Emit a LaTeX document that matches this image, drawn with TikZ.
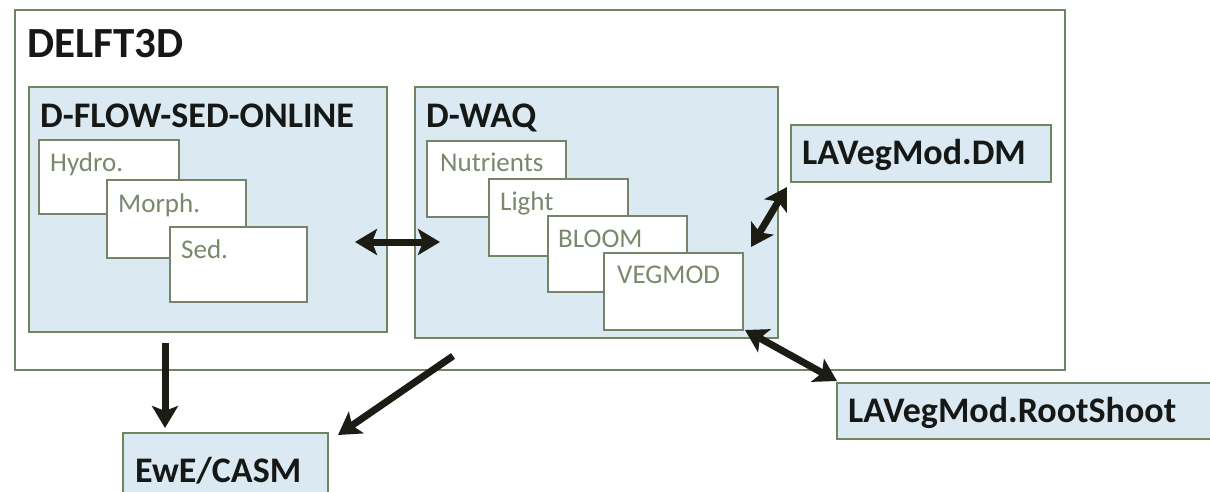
\documentclass[tikz,border=0pt]{standalone}
\usepackage{fontspec}
\setmainfont{Carlito}
\usetikzlibrary{arrows.meta}
\definecolor{boxgreen}{RGB}{112,134,96}
\definecolor{boxblue}{RGB}{219,234,242}
\definecolor{sublabel}{RGB}{122,136,108}
\definecolor{arrowdark}{RGB}{28,28,20}
\definecolor{titleblack}{RGB}{22,24,22}
\begin{document}
\begin{tikzpicture}[x=1pt,y=-1pt,
  >={Stealth[length=22pt,width=26pt,inset=5pt]},
  frame/.style={draw=boxgreen, line width=2.5pt, inner sep=0pt, outer sep=0pt, anchor=north west},
  bluebox/.style={frame, fill=boxblue},
  whitebox/.style={draw=boxgreen!70!gray, line width=1.3pt, fill=white, inner sep=0pt, outer sep=0pt, anchor=north west, minimum width=139pt, minimum height=76pt},
  title/.style={anchor=base west, font=\bfseries\fontsize{36}{40}\selectfont, text=titleblack, inner sep=0pt},
  bigtitle/.style={title, font=\bfseries\fontsize{43}{46}\selectfont},
  subtext/.style={anchor=base west, font=\fontsize{27}{30}\selectfont, text=sublabel, inner sep=0pt},
  link/.style={draw=arrowdark, line width=7pt, ->},
  duallink/.style={draw=arrowdark, line width=7pt, <->},
]
\useasboundingbox (0,0) rectangle (1210,491);
\fill[white] (0,0) rectangle (1210,491);

% outer frame
\node[frame, fill=white, minimum width=1050pt, minimum height=360pt] (delft) at (15,10) {};
\node[bigtitle] (delftlbl) at (27,57) {DELFT3D};

% D-FLOW-SED-ONLINE
\node[bluebox, minimum width=358pt, minimum height=245pt] (flow) at (29,87) {};
\node[title] (flowlbl) at (40,127) {D-FLOW-SED-ONLINE};
\node[whitebox, minimum width=140pt, minimum height=74pt] (hydro) at (39,140) {};
\node[subtext] at (50,171) {Hydro.};
\node[whitebox, minimum height=78pt] (morph) at (107,180) {};
\node[subtext] at (118,212) {Morph.};
\node[whitebox, minimum width=137pt, minimum height=75pt] (sed) at (170,227) {};
\node[subtext] at (181,258) {Sed.};

% D-WAQ
\node[bluebox, minimum width=363pt, minimum height=251pt] (waq) at (415,87) {};
\node[title] (waqlbl) at (426,127) {D-WAQ};
\node[whitebox] (nutr) at (427,141) {};
\node[subtext] at (440,171) {Nutrients};
\node[whitebox, minimum height=77pt] (light) at (489,179) {};
\node[subtext] at (500,210) {Light};
\node[whitebox] (bloom) at (548,216) {};
\node[subtext] at (558,247) {BLOOM};
\node[whitebox, minimum height=77pt] (vegmod) at (604,253) {};
\node[subtext] at (617,283) {VEGMOD};

% LAVegMod.DM
\node[bluebox, minimum width=260pt, minimum height=57pt] (dm) at (791,125) {};
\node[title] (dmlbl) at (802,164) {LAVegMod.DM};

% LAVegMod.RootShoot
\node[bluebox, minimum width=390pt, minimum height=56pt] (root) at (837,383) {};
\node[title] (rootlbl) at (848,422) {LAVegMod.RootShoot};

% EwE/CASM
\node[bluebox, minimum width=205pt, minimum height=80pt] (ewe) at (123,433) {};
\node[title] (ewelbl) at (135,482) {EwE/CASM};

% connector ends
\coordinate (flowR) at (355,242);
\coordinate (waqL) at (440,242);
\coordinate (flowB) at (165,343);
\coordinate (eweT) at (165,428);
\coordinate (waqB) at (453,356);
\coordinate (eweR) at (338,435);
\coordinate (vegTR) at (751,247);
\coordinate (dmBL) at (787,187);
\coordinate (vegBR) at (745,330);
\coordinate (rootTL) at (837,381);

\draw[duallink] (flowR) -- (waqL);
\draw[link] (flowB) -- (eweT);
\draw[link] (waqB) -- (eweR);
\draw[duallink] (vegTR) -- (dmBL);
\draw[duallink] (vegBR) -- (rootTL);
\end{tikzpicture}
\end{document}
